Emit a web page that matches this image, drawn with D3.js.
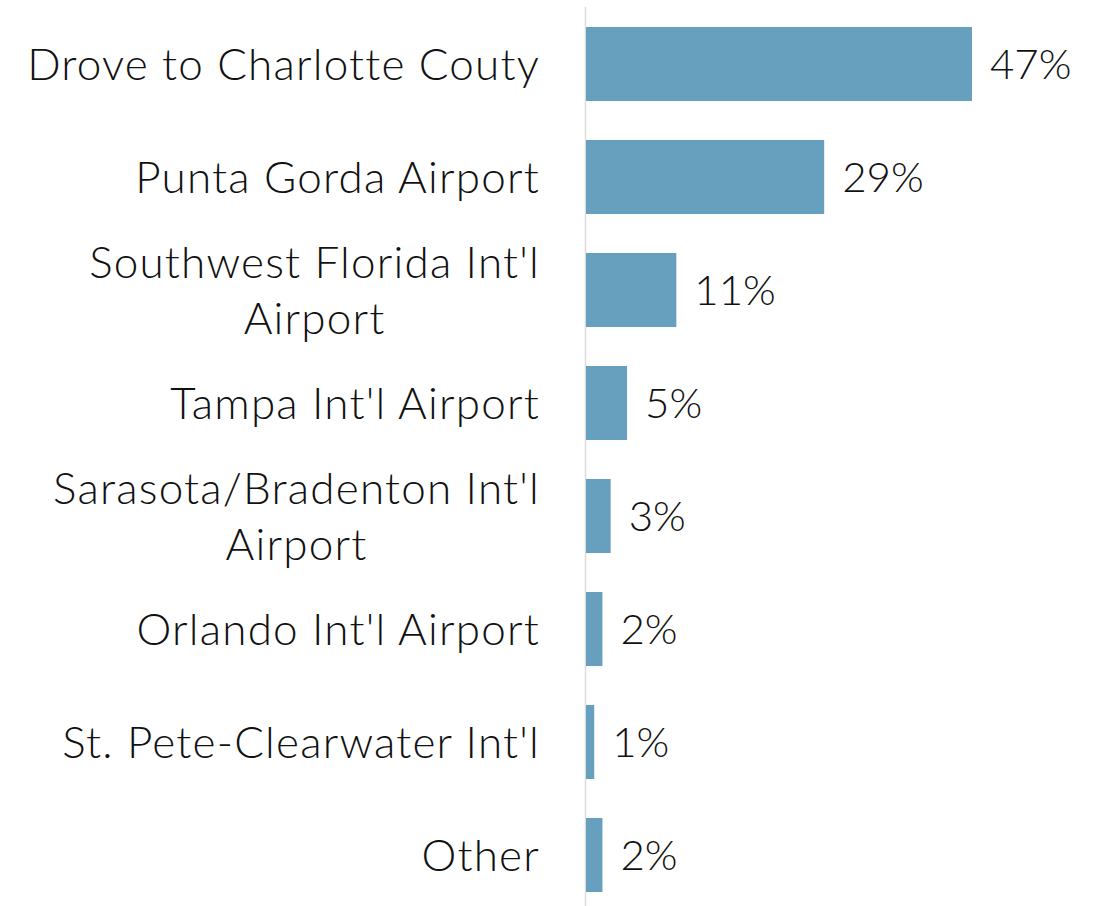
<!DOCTYPE html>
<html>
<head>
<meta charset="utf-8">
<script src="https://cdn.jsdelivr.net/npm/d3@7"></script>
<style>
  body { margin: 0; background: #fff; }
  text { font-family: Lato, "Open Sans", sans-serif; fill: #111; font-weight: 300; }
</style>
</head>
<body>
<svg id="chart"></svg>
<script>
// data
var categories = [
  ["Drove to Charlotte Couty"],
  ["Punta Gorda Airport"],
  ["Southwest Florida Int'l", "Airport"],
  ["Tampa Int'l Airport"],
  ["Sarasota/Bradenton Int'l", "Airport"],
  ["Orlando Int'l Airport"],
  ["St. Pete-Clearwater Int'l"],
  ["Other"]
];
var shares = [47, 29, 11, 5, 3, 2, 1, 2];
var valueLabels = ["47%", "29%", "11%", "5%", "3%", "2%", "1%", "2%"];

var w = 1099;
var h = 906;
var axisX = 586;
var barColor = '#679fbf';

var svg = d3.select('#chart').attr('width', w).attr('height', h);

var keys = categories.map(function(c, i) { return i; });

var y = d3.scaleBand()
  .domain(keys)
  .range([7.5, 911.5])
  .paddingInner(0.345)
  .paddingOuter(0.1725);

var x = d3.scaleLinear()
  .domain([0, 47])
  .range([axisX, 972]);

// light baseline
svg.append('line')
  .attr('x1', axisX - 0.5).attr('x2', axisX - 0.5)
  .attr('y1', 7).attr('y2', h)
  .attr('stroke', '#dcdcdc')
  .attr('stroke-width', 1.5);

// bars
svg.selectAll('rect.bar')
  .data(shares)
  .enter().append('rect')
  .attr('class', 'bar')
  .attr('x', x(0))
  .attr('y', function(d, i) { return y(i); })
  .attr('width', function(d) { return x(d) - x(0); })
  .attr('height', y.bandwidth())
  .attr('fill', barColor);

// value labels
svg.selectAll('text.val')
  .data(shares)
  .enter().append('text')
  .attr('class', 'val')
  .attr('x', function(d) { return x(d) + 18; })
  .attr('y', function(d, i) { return y(i) + y.bandwidth() / 2; })
  .attr('dy', '0.36em')
  .style('font-size', '42px')
  .text(function(d, i) { return valueLabels[i]; });

// category labels (multi-line ones are centred as a block, block right-aligned)
var lineH = 56;
var labelRight = 540;
categories.forEach(function(lines, i) {
  var cy = y(i) + y.bandwidth() / 2;
  var g = svg.append('text')
    .style('font-size', '44px')
    .style('letter-spacing', '1.2px');
  var spans = lines.map(function(t, j) {
    return g.append('tspan')
      .attr('y', cy + (j - (lines.length - 1) / 2) * lineH)
      .attr('dy', '0.36em')
      .text(t);
  });
  if (lines.length === 1) {
    g.attr('text-anchor', 'end');
    spans[0].attr('x', labelRight);
  } else {
    var widest = d3.max(spans, function(s) { return s.node().getComputedTextLength(); });
    g.attr('text-anchor', 'middle');
    spans.forEach(function(s) { s.attr('x', labelRight - widest / 2); });
  }
});
</script>
</body>
</html>
